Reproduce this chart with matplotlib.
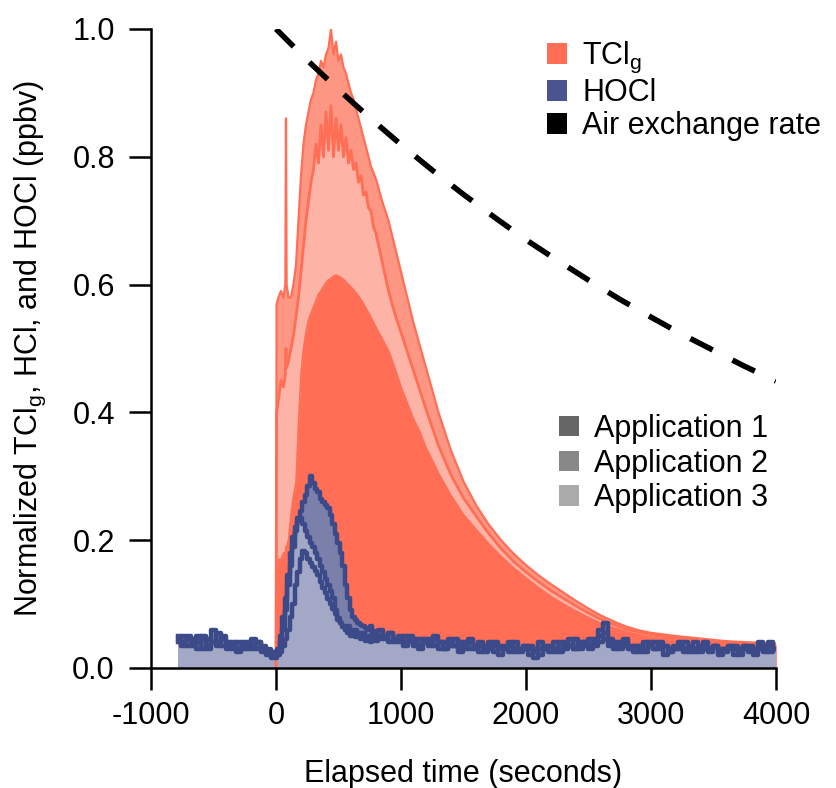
import numpy as np
import matplotlib
matplotlib.use("Agg")
import matplotlib.pyplot as plt
from matplotlib.patches import Patch

plt.rcParams['font.family'] = ['Liberation Sans', 'DejaVu Sans']
plt.rcParams['mathtext.fontset'] = 'custom'
plt.rcParams['mathtext.rm'] = 'Liberation Sans'
plt.rcParams['mathtext.it'] = 'Liberation Sans'
plt.rcParams['axes.unicode_minus'] = False

# ---------------- data ----------------
# TCl_g, three applications (normalized)
t_tcl = [0, 5, 20, 40, 60, 75, 80, 85,
         100, 120, 140, 160, 180, 200, 220, 240, 260, 280,
         300, 320, 340, 360, 380, 400, 420, 440, 460, 480,
         500, 520, 540, 560, 580, 600, 620, 640, 660, 680,
         700, 720, 740, 760, 780, 800,
         850, 900, 950, 1000, 1050, 1100, 1150, 1200,
         1300, 1400, 1500, 1600, 1700, 1800, 1900, 2000, 2100, 2200,
         2300, 2400, 2500, 2600, 2700, 2800, 2900, 3000,
         3200, 3400, 3600, 3800, 4000]

tcl_app1 = [0.0, 0.15, 0.17, 0.17, 0.18, 0.18, 0.19, 0.19,
            0.20, 0.24, 0.27, 0.29, 0.38, 0.46, 0.50, 0.525, 0.545, 0.555,
            0.565, 0.575, 0.585, 0.59, 0.597, 0.603, 0.607, 0.61, 0.613, 0.615,
            0.613, 0.611, 0.608, 0.604, 0.60, 0.596, 0.592, 0.587, 0.582, 0.576,
            0.57, 0.563, 0.556, 0.549, 0.541, 0.533,
            0.515, 0.497, 0.47, 0.44, 0.415, 0.39, 0.37, 0.345,
            0.305, 0.27, 0.24, 0.217, 0.195, 0.175, 0.157, 0.141, 0.126, 0.112,
            0.10, 0.089, 0.079, 0.07, 0.063, 0.057, 0.052, 0.048,
            0.045, 0.042, 0.04, 0.037, 0.035]

tcl_app2 = [0.0, 0.57, 0.58, 0.59, 0.58, 0.60, 0.86, 0.60,
            0.58, 0.58, 0.60, 0.63, 0.70, 0.77, 0.82, 0.85, 0.87, 0.89,
            0.90, 0.92, 0.93, 0.95, 0.94, 0.96, 0.97, 1.0, 0.96, 0.98,
            0.95, 0.96, 0.94, 0.93, 0.915, 0.90, 0.89, 0.875, 0.86, 0.845,
            0.83, 0.815, 0.80, 0.785, 0.775, 0.765,
            0.73, 0.70, 0.66, 0.62, 0.58, 0.54, 0.505, 0.47,
            0.40, 0.34, 0.292, 0.255, 0.225, 0.20, 0.179, 0.161, 0.145, 0.131,
            0.118, 0.105, 0.093, 0.082, 0.073, 0.065, 0.059, 0.055,
            0.05, 0.046, 0.042, 0.04, 0.038]

tcl_app3 = [0.0, 0.40, 0.42, 0.45, 0.44, 0.46, 0.50, 0.47,
            0.48, 0.50, 0.52, 0.55, 0.58, 0.62, 0.66, 0.70, 0.73, 0.76,
            0.78, 0.82, 0.79, 0.85, 0.80, 0.87, 0.81, 0.88, 0.80, 0.86,
            0.81, 0.85, 0.80, 0.83, 0.79, 0.81, 0.78, 0.79, 0.76, 0.77,
            0.74, 0.745, 0.72, 0.715, 0.69, 0.68,
            0.635, 0.59, 0.555, 0.525, 0.495, 0.465, 0.435, 0.405,
            0.348, 0.302, 0.266, 0.238, 0.211, 0.187, 0.167, 0.15, 0.135, 0.121,
            0.109, 0.097, 0.086, 0.076, 0.068, 0.061, 0.056, 0.052,
            0.047, 0.043, 0.04, 0.038, 0.036]

# HOCl, three applications
t_hocl = np.concatenate([np.arange(-780, 0, 40), np.arange(0, 801, 20),
                         np.arange(840, 4001, 40)])

hocl_app2 = [  # outer (largest peak)
    0.05, 0.04, 0.045, 0.035, 0.05, 0.03, 0.045, 0.04, 0.055, 0.035,
    0.03, 0.04, 0.025, 0.035, 0.03, 0.045, 0.03, 0.035, 0.025, 0.02,
    0.02, 0.025, 0.04, 0.06, 0.09, 0.13, 0.16, 0.19, 0.215, 0.235,
    0.245, 0.26, 0.27, 0.285, 0.30, 0.29, 0.28, 0.275, 0.265, 0.26,
    0.255, 0.25, 0.24, 0.225, 0.21, 0.195, 0.18, 0.16, 0.13, 0.11,
    0.09, 0.08, 0.075, 0.07, 0.068, 0.065, 0.062, 0.06, 0.065, 0.058,
    0.055,
    0.06, 0.05, 0.055, 0.045, 0.05, 0.04, 0.05, 0.045, 0.035, 0.045,
    0.04, 0.05, 0.04, 0.03, 0.045, 0.035, 0.04, 0.03, 0.045, 0.035,
    0.04, 0.025, 0.035, 0.04, 0.03, 0.035, 0.025, 0.04, 0.03, 0.035,
    0.02, 0.03, 0.04, 0.03, 0.035, 0.025, 0.04, 0.03, 0.035, 0.045,
    0.03, 0.04, 0.035, 0.045, 0.06, 0.07, 0.045, 0.04, 0.035, 0.045,
    0.03, 0.035, 0.025, 0.04, 0.035, 0.03, 0.04, 0.035, 0.025, 0.03,
    0.04, 0.03, 0.035, 0.025, 0.03, 0.04, 0.03, 0.035, 0.025, 0.03,
    0.035, 0.02, 0.03, 0.035, 0.025, 0.03, 0.035, 0.025, 0.04, 0.03]

hocl_app1 = [  # middle
    0.045, 0.05, 0.035, 0.045, 0.04, 0.05, 0.035, 0.06, 0.04, 0.045,
    0.035, 0.03, 0.04, 0.03, 0.04, 0.035, 0.04, 0.03, 0.03, 0.025,
    0.02, 0.03, 0.05, 0.08, 0.11, 0.145, 0.18, 0.205, 0.22, 0.23,
    0.235, 0.225, 0.215, 0.205, 0.195, 0.19, 0.18, 0.17, 0.16, 0.15,
    0.14, 0.13, 0.12, 0.11, 0.09, 0.075, 0.07, 0.065, 0.06, 0.065,
    0.06, 0.055, 0.06, 0.055, 0.05, 0.055, 0.05, 0.045, 0.05, 0.055,
    0.05,
    0.05, 0.045, 0.055, 0.04, 0.045, 0.05, 0.04, 0.035, 0.045, 0.04,
    0.035, 0.045, 0.03, 0.04, 0.035, 0.045, 0.03, 0.035, 0.04, 0.03,
    0.035, 0.03, 0.04, 0.025, 0.035, 0.03, 0.04, 0.025, 0.03, 0.035,
    0.03, 0.015, 0.03, 0.035, 0.025, 0.04, 0.03, 0.035, 0.045, 0.03,
    0.035, 0.04, 0.03, 0.04, 0.05, 0.045, 0.04, 0.035, 0.03, 0.04,
    0.035, 0.025, 0.035, 0.03, 0.04, 0.03, 0.035, 0.02, 0.03, 0.035,
    0.03, 0.04, 0.025, 0.03, 0.035, 0.03, 0.025, 0.035, 0.03, 0.025,
    0.035, 0.03, 0.02, 0.035, 0.03, 0.025, 0.04, 0.03, 0.035, 0.03]

hocl_app3 = [  # inner
    0.04, 0.035, 0.05, 0.04, 0.03, 0.045, 0.03, 0.04, 0.035, 0.05,
    0.04, 0.035, 0.03, 0.04, 0.035, 0.03, 0.04, 0.025, 0.02, 0.015,
    0.015, 0.02, 0.025, 0.035, 0.045, 0.06, 0.08, 0.10, 0.13, 0.15,
    0.17, 0.183, 0.18, 0.17, 0.165, 0.158, 0.152, 0.145, 0.135, 0.125,
    0.117, 0.108, 0.10, 0.092, 0.085, 0.078, 0.07, 0.064, 0.06, 0.055,
    0.05, 0.052, 0.048, 0.05, 0.045, 0.048, 0.042, 0.045, 0.04, 0.045,
    0.042,
    0.045, 0.05, 0.04, 0.045, 0.04, 0.035, 0.045, 0.04, 0.03, 0.04,
    0.045, 0.035, 0.04, 0.03, 0.04, 0.035, 0.025, 0.04, 0.03, 0.035,
    0.025, 0.035, 0.03, 0.035, 0.02, 0.03, 0.035, 0.03, 0.025, 0.03,
    0.035, 0.025, 0.02, 0.03, 0.035, 0.03, 0.025, 0.04, 0.035, 0.03,
    0.04, 0.035, 0.045, 0.035, 0.04, 0.055, 0.035, 0.03, 0.04, 0.035,
    0.03, 0.035, 0.03, 0.025, 0.035, 0.04, 0.03, 0.035, 0.025, 0.03,
    0.035, 0.025, 0.03, 0.04, 0.025, 0.035, 0.03, 0.035, 0.02, 0.03,
    0.03, 0.035, 0.025, 0.03, 0.035, 0.02, 0.03, 0.035, 0.025, 0.03]

# Air exchange rate (normalized decay)
t_air = [0, 250, 500, 750, 1000, 1250, 1500, 1750, 2000, 2250, 2500,
         2750, 3000, 3250, 3500, 3750, 4000]
air = [1.0, 0.951, 0.905, 0.861, 0.819, 0.779, 0.741, 0.705, 0.670, 0.638,
       0.607, 0.577, 0.549, 0.522, 0.497, 0.472, 0.449]

legend_top = ['TCl$_\\mathregular{g}$', 'HOCl', 'Air exchange rate']
legend_apps = ['Application 1', 'Application 2', 'Application 3']

# ---------------- style ----------------
salmon = '#FF6E55'
salmon_mid = '#FD9784'
salmon_light = '#FDB3A5'
navy = '#3D4A8A'
blue_mid = '#7B80AA'
blue_light = '#A3A8C7'

fig = plt.figure(figsize=(8.36, 7.88), dpi=100)
ax = fig.add_axes([0.1806, 0.1523, 0.7476, 0.811])

# TCl fills (outer -> inner)
ax.fill_between(t_tcl, tcl_app2, 0, color=salmon_mid, lw=0)
ax.plot(t_tcl, tcl_app2, color=salmon, lw=1.6)
ax.fill_between(t_tcl, tcl_app3, 0, color=salmon_light, lw=0)
ax.plot(t_tcl, tcl_app3, color=salmon, lw=2.0)
ax.fill_between(t_tcl, tcl_app1, 0, color=salmon, lw=0)
ax.plot(t_tcl, tcl_app1, color=salmon, lw=1.2)

# HOCl fills and lines
ax.fill_between(t_hocl, hocl_app2, 0, color=blue_mid, lw=0, step='mid')
ax.fill_between(t_hocl, hocl_app1, 0, color=blue_light, lw=0, step='mid')
ax.fill_between(t_hocl, hocl_app3, 0, color=blue_light, lw=0, step='mid')
for s in (hocl_app2, hocl_app1, hocl_app3):
    ax.plot(t_hocl, s, color=navy, lw=3.2, drawstyle='steps-mid')

# air exchange
ax.plot(t_air, air, color='black', lw=4, dashes=(4.5, 4), dash_capstyle='butt')

ax.set_xlim(-1000, 4000)
ax.set_ylim(0, 1.0)
ax.set_xticks([-1000, 0, 1000, 2000, 3000, 4000])
ax.set_yticks([0.0, 0.2, 0.4, 0.6, 0.8, 1.0])
ax.set_yticklabels(['%.1f' % v for v in [0.0, 0.2, 0.4, 0.6, 0.8, 1.0]])
for sp in ('top', 'right'):
    ax.spines[sp].set_visible(False)
for sp in ('left', 'bottom'):
    ax.spines[sp].set_linewidth(1.8)
ax.tick_params(direction='out', length=16, width=1.8, labelsize=22, pad=8)
ax.tick_params(axis='y', pad=10)

ax.set_xlabel('Elapsed time (seconds)', fontsize=22)
ax.set_ylabel('Normalized TCl$_\\mathregular{g}$, HCl, and HOCl (ppbv)', fontsize=22)
ax.xaxis.set_label_coords(0.5, -0.142)
ax.yaxis.set_label_coords(-0.165, 0.5)

h1 = [Patch(facecolor=c, edgecolor='none') for c in (salmon, '#4A5590', 'black')]
fig.legend(h1, legend_top, loc='upper left',
           bbox_to_anchor=(547 / 836, 1 - 40 / 788), frameon=False,
           fontsize=22, handlelength=0.65, handleheight=0.65,
           handletextpad=0.5, labelspacing=0.1, borderpad=0,
           borderaxespad=0)
h2 = [Patch(facecolor=c, edgecolor='none') for c in ('#666666', '#888888', '#AAAAAA')]
fig.legend(h2, legend_apps, loc='upper left',
           bbox_to_anchor=(559 / 836, 1 - 414 / 788), frameon=False,
           fontsize=22, handlelength=0.65, handleheight=0.65,
           handletextpad=0.5, labelspacing=0.15, borderpad=0,
           borderaxespad=0)

fig.savefig('out.png', dpi=100)
